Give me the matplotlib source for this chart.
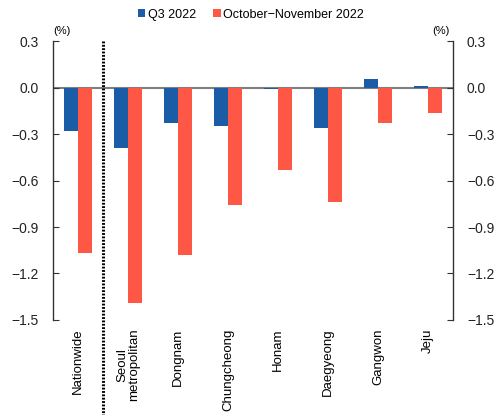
import matplotlib.pyplot as plt
import numpy as np

plt.rcParams['font.family'] = ['Liberation Sans', 'DejaVu Sans']

# regions and growth rates (%)
regions = ["Nationwide", "Seoul\nmetropolitan", "Dongnam", "Chungcheong",
           "Honam", "Daegyeong", "Gangwon", "Jeju"]
q3_2022 = [-0.28, -0.39, -0.23, -0.25, -0.01, -0.26, 0.055, 0.01]
oct_nov_2022 = [-1.07, -1.39, -1.08, -0.755, -0.535, -0.74, -0.23, -0.165]
yticks = [0.3, 0.0, -0.3, -0.6, -0.9, -1.2, -1.5]

blue = '#1A5DA6'
red = '#FF5745'

fig = plt.figure(figsize=(4.97, 4.15), dpi=100)
ax = fig.add_axes([0.1066, 0.229, 0.8049, 0.672])

x = np.arange(len(regions))
w = 0.286
ax.bar(x - w / 2, q3_2022, w, color=blue, label='Q3 2022')
ax.bar(x + w / 2, oct_nov_2022, w, color=red, label='October\u2212November 2022')

ax.axhline(0, color='#7f7f7f', lw=1.5, zorder=0)
# dotted separator between nationwide and regions, extends into the labels
ax.plot([0.5, 0.5], [0.3, -2.3], color='black', lw=2.2, ls=(0, (0.6, 0.5)),
        clip_on=False)

ax.set_xlim(-0.5, 7.5)
ax.set_ylim(-1.5, 0.3)
ax.set_yticks(yticks)
ax.set_yticklabels([f"{t:.1f}".replace('-', '\u2212') for t in yticks])

ax.spines['top'].set_visible(False)
ax.spines['bottom'].set_visible(False)
for s in ['left', 'right']:
    ax.spines[s].set_linewidth(1)
    ax.spines[s].set_color('#333333')

ax.tick_params(axis='y', direction='in', length=4, labelsize=10,
               right=True, labelright=True, pad=10, colors='#333333')
ax.tick_params(axis='y', labelcolor='#222222')
ax.set_xticks(x)
ax.set_xticklabels(regions, rotation=90, fontsize=9.5, va='top',
                   linespacing=1.0)
ax.tick_params(axis='x', length=0, pad=6)

fig.text(0.125, 0.926, '(%)', fontsize=8, ha='center', va='center')
fig.text(0.888, 0.926, '(%)', fontsize=8, ha='center', va='center')

ax.legend(loc='center', bbox_to_anchor=(0.495, 1.094), ncol=2,
          frameon=False, fontsize=9, handlelength=0.6, handleheight=0.6,
          handletextpad=0.2, columnspacing=1.4, borderaxespad=0)

fig.savefig('out.png', dpi=100)
